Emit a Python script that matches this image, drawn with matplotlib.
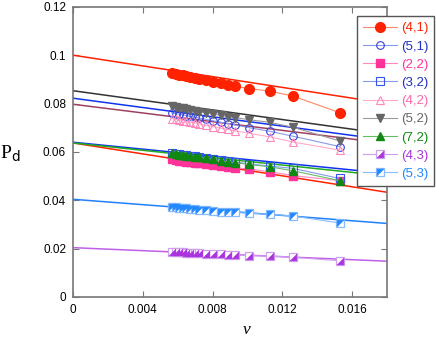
import matplotlib
matplotlib.use("Agg")
import matplotlib.pyplot as plt
from matplotlib.legend_handler import HandlerTuple

# data
v = [0.00565, 0.0059, 0.0061, 0.0063, 0.0065, 0.0067, 0.0070, 0.0072, 0.0076,
     0.0080, 0.0085, 0.0089, 0.0093, 0.0101, 0.0113, 0.0126, 0.0153]

labels = ["(4,1)", "(5,1)", "(2,2)", "(3,2)", "(4,2)", "(5,2)", "(7,2)", "(4,3)", "(5,3)"]

p41 = [0.0927, 0.0923, 0.0920, 0.0917, 0.0914, 0.0911, 0.0906, 0.0903, 0.0897,
       0.0891, 0.0884, 0.0878, 0.0872, 0.0862, 0.0851, 0.0831, 0.0762]
p51 = [0.0762, 0.0758, 0.0756, 0.0753, 0.0750, 0.0747, 0.0743, 0.0740, 0.0735,
       0.0729, 0.0722, 0.0717, 0.0711, 0.0700, 0.0685, 0.0665, 0.0622]
p22 = [0.0569, 0.0566, 0.0564, 0.0562, 0.0560, 0.0558, 0.0555, 0.0553, 0.0549,
       0.0545, 0.0540, 0.0537, 0.0534, 0.0529, 0.0518, 0.0502, 0.0481]
p32 = [0.0596, 0.0593, 0.0591, 0.0589, 0.0587, 0.0585, 0.0582, 0.0580, 0.0576,
       0.0572, 0.0566, 0.0562, 0.0558, 0.0551, 0.0541, 0.0532, 0.0490]
p42 = [0.0738, 0.0735, 0.0732, 0.0729, 0.0726, 0.0723, 0.0719, 0.0716, 0.0711,
       0.0705, 0.0698, 0.0693, 0.0687, 0.0677, 0.0662, 0.0641, 0.0607]
p52 = [0.0790, 0.0786, 0.0783, 0.0780, 0.0777, 0.0774, 0.0770, 0.0767, 0.0762,
       0.0757, 0.0751, 0.0746, 0.0742, 0.0733, 0.0722, 0.0702, 0.0645]
p72 = [0.0594, 0.0591, 0.0589, 0.0587, 0.0585, 0.0583, 0.0580, 0.0578, 0.0574,
       0.0569, 0.0563, 0.0559, 0.0555, 0.0548, 0.0538, 0.0522, 0.0481]
p43 = [0.0187, 0.0186, 0.0185, 0.0184, 0.0183, 0.0182, 0.0181, 0.0180, 0.0179,
       0.0177, 0.0176, 0.0175, 0.0174, 0.0171, 0.0169, 0.0164, 0.0150]
p53 = [0.0373, 0.0371, 0.0369, 0.0368, 0.0366, 0.0364, 0.0362, 0.0360, 0.0358,
       0.0356, 0.0353, 0.0351, 0.0350, 0.0346, 0.0342, 0.0335, 0.0306]
series = [p41, p51, p22, p32, p42, p52, p72, p43, p53]

# linear fits: value at v=0 and slope
fit_b = [0.1000, 0.0822, 0.0637, 0.0640, 0.0797, 0.0853, 0.0637, 0.0204, 0.0404]
fit_m = [-1.111, -0.961, -1.133, -0.717, -0.900, -0.994, -0.761, -0.311, -0.555]
fit_range = [0.0, 0.018]

# styles
mark_col = ["#ff2200", "#3344dd", "#ff3399", "#3355ee", "#ff88bb",
            "#666666", "#118811", "#aa33dd", "#2288ff"]
conn_col = ["#ff8866", "#8899ee", "#ff88c0", "#8899ee", "#ffaacc",
            "#999999", "#66bb66", "#d0a0ee", "#88bbff"]
fit_col = ["#ff2200", "#1133ee", "#ff2200", "#1133ee", "#a04060",
           "#333333", "#22aa22", "#c060e8", "#2080ff"]
text_col = ["#ff2200", "#1f2fc0", "#ff3399", "#1f2fc0", "#ff66aa",
            "#666666", "#118811", "#aa33dd", "#2288ff"]
markers = ["o", "o", "s", "s", "^", "v", "^", "s", "s"]
filled = [True, False, True, False, False, True, True, None, None]
msize = [7, 5.5, 5.5, 5.5, 5.5, 5.5, 5.5, 5.5, 5.5]

# half-filled squares: diagonal triangle drawn over an open square
half_br = [(-1, -1), (1, -1), (1, 1), (-1, -1)]
half_tl = [(-1, -1), (-1, 1), (1, 1), (-1, -1)]
half = {7: half_br, 8: half_tl}

plt.rcParams.update({"font.family": "Liberation Sans", "font.size": 8.5})
fig = plt.figure(figsize=(4.36, 3.40), dpi=100)
ax = fig.add_axes([0.1674, 0.1265, 0.7202, 0.8535])

handles = []
for i, ys in enumerate(series):
    xs = fit_range
    ax.plot(xs, [fit_b[i] + fit_m[i] * x for x in xs], color=fit_col[i], lw=1.1, zorder=2)
    if i in half:
        h1, = ax.plot(v, ys, color=conn_col[i], lw=0.8, marker="s", ms=msize[i],
                      mfc="white", mec=conn_col[i], mew=0.9, zorder=3 + i * 0.1)
        h2, = ax.plot(v, ys, ls="none", marker=half[i], ms=msize[i] - 0.6,
                      mfc=mark_col[i], mec=mark_col[i], mew=0.3, zorder=3 + i * 0.1)
        handles.append((h1, h2))
    elif filled[i]:
        h, = ax.plot(v, ys, color=conn_col[i], lw=0.8, marker=markers[i], ms=msize[i],
                     mfc=mark_col[i], mec=mark_col[i], zorder=3 + i * 0.1)
        handles.append(h)
    else:
        h, = ax.plot(v, ys, color=conn_col[i], lw=0.8, marker=markers[i], ms=msize[i],
                     mfc="none", mec=mark_col[i], mew=0.8, zorder=3 + i * 0.1)
        handles.append(h)

ax.set_xlim(0, 0.018)
ax.set_ylim(0, 0.12)
ax.set_xticks([0, 0.004, 0.008, 0.012, 0.016])
ax.set_xticklabels(["0", "0.004", "0.008", "0.012", "0.016"])
ax.set_yticks([0, 0.02, 0.04, 0.06, 0.08, 0.1, 0.12])
ax.set_yticklabels(["0", "0.02", "0.04", "0.06", "0.08", "0.1", "0.12"])
ax.tick_params(direction="in", top=True, right=True, length=4, color="#777777",
               labelsize=8.5, pad=5)
for sp in ax.spines.values():
    sp.set_color("#777777")
    sp.set_linewidth(1.2)

ax.set_xlabel("v", family="Liberation Serif", style="italic", fontsize=12.5)
ax.xaxis.set_label_coords(0.554, -0.085)
ax.set_ylabel(r"P$_{\rm d}$", family="Liberation Serif", fontsize=14, rotation=0)
ax.yaxis.set_label_coords(-0.2, 0.46)

leg = ax.legend(handles, labels, handler_map={tuple: HandlerTuple(ndivide=1)},
                loc="upper left", bbox_to_anchor=(0.818, 0.952),
                bbox_transform=fig.transFigure, fancybox=False, framealpha=1,
                edgecolor="#555555", fontsize=9.5, handlelength=2.6,
                handletextpad=0.3, labelspacing=0.45, borderpad=0.45,
                borderaxespad=0)
leg.get_frame().set_linewidth(1.0)
for t, c in zip(leg.get_texts(), text_col):
    t.set_color(c)

fig.savefig("out.png", dpi=100)
